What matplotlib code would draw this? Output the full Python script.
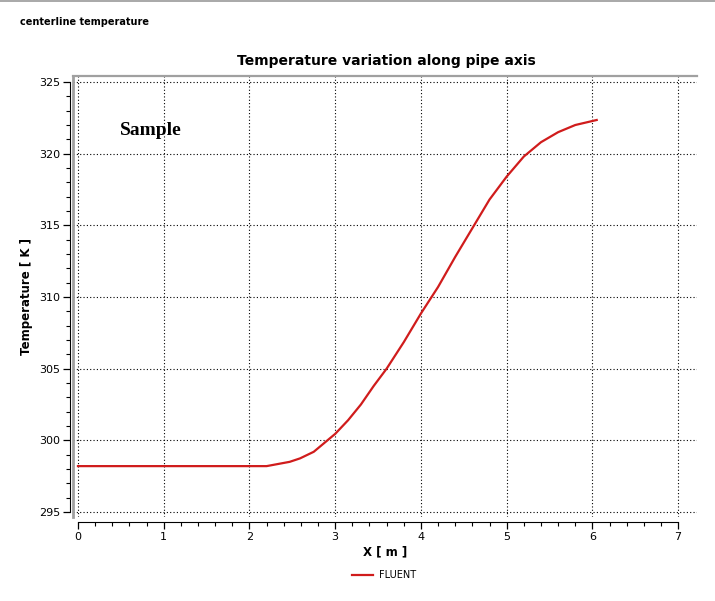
#!/usr/bin/env python3
"""Centerline temperature along the pipe axis (FLUENT export look)."""

import matplotlib

matplotlib.use("Agg")
import matplotlib.pyplot as plt
import numpy as np

# data
x_m = [0.0, 2.2, 2.47, 2.59, 2.75, 2.88, 3.0, 3.15, 3.3, 3.45, 3.6, 3.8,
       4.0, 4.2, 4.4, 4.6, 4.8, 5.0, 5.2, 5.4, 5.6, 5.8, 6.05]
temp_k = [298.2, 298.2, 298.5, 298.74, 299.2, 299.85, 300.45, 301.4, 302.5,
          303.8, 305.0, 306.85, 308.85, 310.7, 312.8, 314.8, 316.8, 318.4,
          319.8, 320.8, 321.5, 322.0, 322.35]
x_ticks = [0, 1, 2, 3, 4, 5, 6, 7]
y_ticks = [295, 300, 305, 310, 315, 320, 325]

W, H = 715, 601
fig = plt.figure(figsize=(W / 100, H / 100), dpi=100)
ax = fig.add_axes([73 / W, 1 - 517 / H, 624 / W, 441 / H])

ax.plot(x_m, temp_k, color="#d01c1c", lw=1.6, label="FLUENT")

ax.set_xlim(-0.058, 7.22)
ax.set_ylim(294.65, 325.42)
ax.set_xticks(x_ticks)
ax.set_yticks(y_ticks)
ax.set_xticks(np.arange(0, 7.001, 0.2), minor=True)
ax.set_yticks(np.arange(295, 325.001, 1), minor=True)
ax.grid(True, which="major", color="black", lw=0.8, linestyle=(0, (1, 2)))

for side in ("top", "right"):
    ax.spines[side].set_visible(False)
ax.spines["left"].set_position(("outward", 2.2))
ax.spines["left"].set_bounds(295, 325)
ax.spines["bottom"].set_position(("outward", 3.6))
ax.spines["bottom"].set_bounds(0, 7)
ax.tick_params(which="major", length=5, width=0.9, labelsize=8, pad=2)
ax.tick_params(which="minor", length=3.2, width=0.8)

# gray plot frame (top and left)
ax.plot([0, 1], [1, 1], transform=ax.transAxes, color="#a0a0a0", lw=1.6, clip_on=False)
ax.plot([0, 0], [0, 1], transform=ax.transAxes, color="#a0a0a0", lw=2.0, clip_on=False)

ax.set_xlabel("X [ m ]", fontsize=8.5, fontweight="bold", labelpad=3)
ax.set_ylabel("Temperature [ K ]", fontsize=8.5, fontweight="bold", labelpad=4)

ax.text(0.075, 0.877, "Sample", transform=ax.transAxes, family="Liberation Serif",
        fontsize=14, fontweight="bold", va="center", ha="left")

fig.text(386 / W, 1 - 61 / H, "Temperature variation along pipe axis",
         ha="center", va="center", fontsize=10, fontweight="bold")
fig.text(20 / W, 1 - 22 / H, "centerline temperature",
         ha="left", va="center", fontsize=7, fontweight="bold")
fig.add_artist(plt.Line2D([0, 1], [1 - 1 / H, 1 - 1 / H], color="#9a9a9a", lw=1.2))

fig.legend(loc="center", bbox_to_anchor=(384 / W, 1 - 575 / H), frameon=False,
           fontsize=7, handlelength=2.2, handletextpad=0.6)

fig.savefig("out.png", dpi=100)
